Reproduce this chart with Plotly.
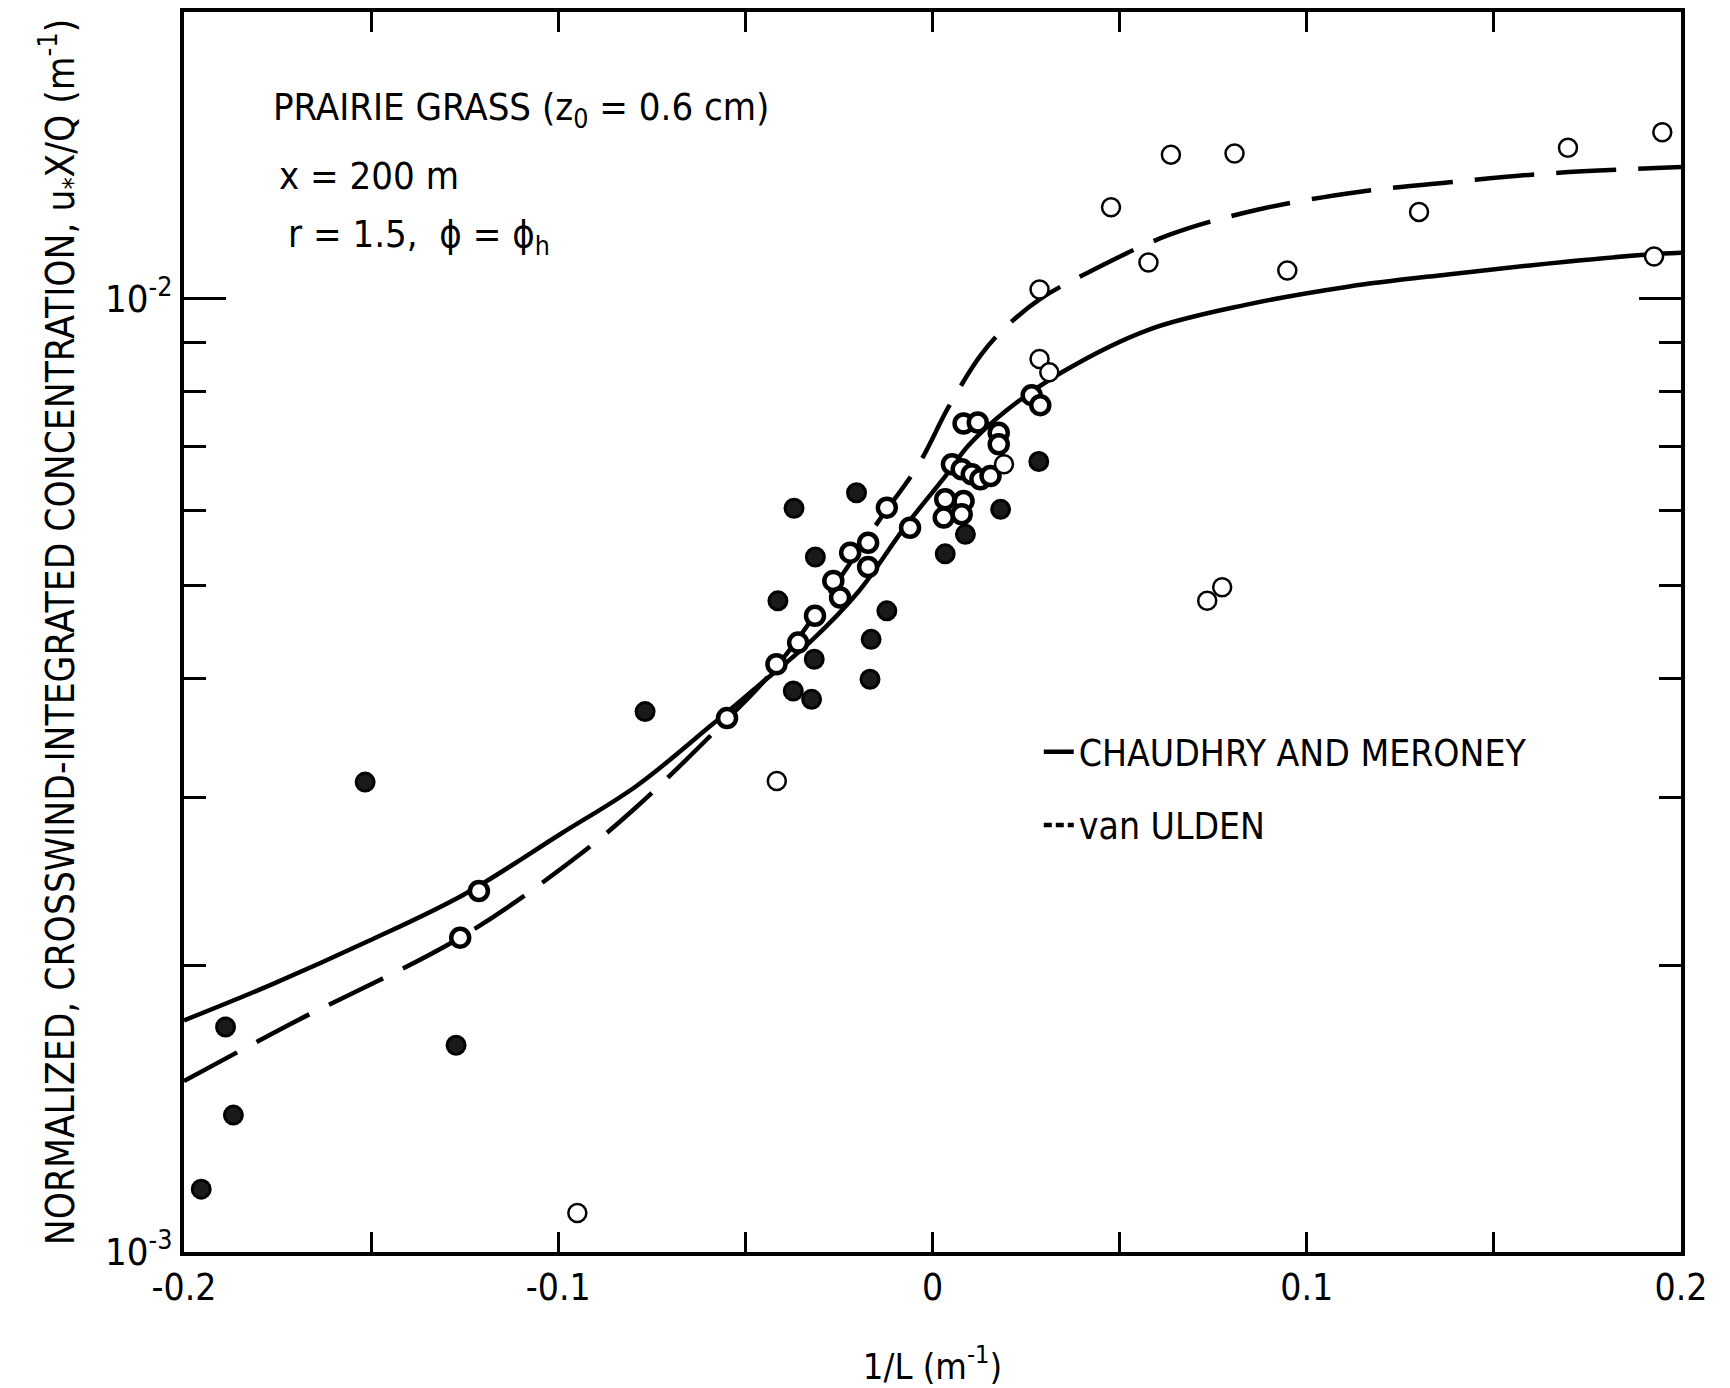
import plotly.graph_objects as go

# ---------------- data ----------------
# dark (filled) observations
dark_x = [-0.1954, -0.1889, -0.1868, -0.1516, -0.1273, -0.0768, -0.0413, -0.0370, -0.0372, -0.0313,
          -0.0316, -0.0323, -0.0203, -0.0164, -0.0167, -0.0122, 0.0034, 0.0088, 0.0182, 0.0284]
dark_y = [1.164e-3, 1.722e-3, 1.392e-3, 3.112e-3, 1.648e-3, 3.690e-3, 4.822e-3, 6.030e-3, 3.878e-3, 5.360e-3,
          4.187e-3, 3.801e-3, 6.260e-3, 4.394e-3, 3.990e-3, 4.707e-3, 5.402e-3, 5.662e-3, 6.015e-3, 6.751e-3]

# heavy-ring observations
ring_x = [-0.1262, -0.1212, -0.0549, -0.0417, -0.0359, -0.0314, -0.0265, -0.0247, -0.0220, -0.0172,
          -0.0172, -0.0122, -0.0060, 0.0034, 0.0083, 0.0030, 0.0078, 0.0052, 0.0078, 0.0105,
          0.0128, 0.0155, 0.0083, 0.0121, 0.0177, 0.0177, 0.0265, 0.0288]
ring_y = [2.137e-3, 2.392e-3, 3.633e-3, 4.137e-3, 4.359e-3, 4.651e-3, 5.060e-3, 4.860e-3, 5.417e-3, 5.548e-3,
          5.232e-3, 6.039e-3, 5.754e-3, 6.162e-3, 6.138e-3, 5.896e-3, 5.943e-3, 6.706e-3, 6.626e-3, 6.546e-3,
          6.468e-3, 6.519e-3, 7.400e-3, 7.420e-3, 7.238e-3, 7.039e-3, 7.925e-3, 7.736e-3]

# open observations
open_x = [-0.0949, -0.0416, 0.0191, 0.0286, 0.0286, 0.0312, 0.0477, 0.0577, 0.0637, 0.0734,
          0.0774, 0.0807, 0.0948, 0.1300, 0.1698, 0.1928, 0.1950]
open_y = [1.099e-3, 3.120e-3, 6.706e-3, 1.023e-2, 8.650e-3, 8.374e-3, 1.248e-2, 1.092e-2, 1.417e-2, 4.822e-3,
          4.982e-3, 1.421e-2, 1.071e-2, 1.234e-2, 1.441e-2, 1.108e-2, 1.496e-2]

# Chaudhry and Meroney curve
cm_x = [-0.2, -0.1765, -0.1510, -0.1253, -0.0996, -0.0791, -0.0593, -0.0463, -0.0324, -0.0197, -0.0072,
        0.0034, 0.0096, 0.0194, 0.0348, 0.0577, 0.0843, 0.1110, 0.1377, 0.1643, 0.1909, 0.2]
cm_y = [1.750e-3, 1.909e-3, 2.117e-3, 2.371e-3, 2.742e-3, 3.083e-3, 3.565e-3, 3.935e-3, 4.377e-3, 4.935e-3, 5.776e-3,
        6.513e-3, 7.016e-3, 7.619e-3, 8.386e-3, 9.281e-3, 9.868e-3, 1.030e-2, 1.061e-2, 1.089e-2, 1.113e-2, 1.118e-2]

# van Ulden curve
vu_x = [-0.2, -0.1714, -0.1262, -0.0966, -0.0791, -0.0546, -0.0466, -0.0377, -0.0253, -0.0143, -0.0037,
        0.0043, 0.0129, 0.0191, 0.0288, 0.0416, 0.0632, 0.0871, 0.1138, 0.1404, 0.1643, 0.2]
vu_y = [1.511e-3, 1.736e-3, 2.137e-3, 2.570e-3, 2.930e-3, 3.632e-3, 3.908e-3, 4.307e-3, 5.055e-3, 5.853e-3, 6.706e-3,
        7.702e-3, 8.729e-3, 9.306e-3, 1.000e-2, 1.066e-2, 1.167e-2, 1.241e-2, 1.295e-2, 1.328e-2, 1.354e-2, 1.375e-2]

x_major = [-0.2, -0.1, 0, 0.1, 0.2]
x_major_text = ["-0.2", "-0.1", "0", "0.1", "0.2"]
x_minor = [-0.15, -0.05, 0.05, 0.15]
y_major = [1e-3, 1e-2]
y_major_text = ["10<sup>-3</sup>", "10<sup>-2</sup>"]
y_minor = [2e-3, 3e-3, 4e-3, 5e-3, 6e-3, 7e-3, 8e-3, 9e-3]

FONT = "Liberation Sans Narrow, DejaVu Sans Condensed, Arial Narrow, sans-serif"

fig = go.Figure()
fig.add_trace(go.Scatter(x=cm_x, y=cm_y, mode="lines", name="CHAUDHRY AND MERONEY",
                         legendgroup="cm", showlegend=True,
                         line=dict(color="black", width=4.5), line_shape="spline"))
fig.add_trace(go.Scatter(x=vu_x, y=vu_y, mode="lines", name="van ULDEN", showlegend=False,
                         line=dict(color="black", width=4.5, dash="60px,22px"), line_shape="spline"))
# legend-only entry for the dashed curve (shorter dash so the key shows the pattern)
fig.add_trace(go.Scatter(x=[None], y=[None], mode="lines", name="van ULDEN", legendgroup="vu",
                         line=dict(color="black", width=4.5, dash="8px,4px")))
fig.add_trace(go.Scatter(x=ring_x, y=ring_y, mode="markers", showlegend=False,
                         marker=dict(symbol="circle", size=18, color="white",
                                     line=dict(color="black", width=4.5))))
fig.add_trace(go.Scatter(x=dark_x, y=dark_y, mode="markers", showlegend=False,
                         marker=dict(symbol="circle", size=18, color="#1a1a1a",
                                     line=dict(color="black", width=3))))
fig.add_trace(go.Scatter(x=open_x, y=open_y, mode="markers", showlegend=False,
                         marker=dict(symbol="circle", size=18, color="white",
                                     line=dict(color="black", width=2.5))))

fig.update_layout(
    width=1730, height=1388,
    margin=dict(l=184, r=49, t=12, b=136),
    paper_bgcolor="white", plot_bgcolor="white",
    font=dict(family=FONT, color="black", size=36),
    legend=dict(x=0.571, y=0.428, xanchor="left", yanchor="top",
                bgcolor="rgba(0,0,0,0)", font=dict(size=37), tracegroupgap=22,
                traceorder="grouped"),
    xaxis=dict(range=[-0.2, 0.2], tickmode="array", tickvals=x_major, ticktext=x_major_text,
               ticks="inside", ticklen=20, tickwidth=3, tickcolor="black",
               minor=dict(tickmode="array", tickvals=x_minor, ticks="inside", ticklen=20,
                          tickwidth=3, tickcolor="black"),
               showline=True, linewidth=4, linecolor="black", mirror="ticks",
               showgrid=False, zeroline=False, tickfont=dict(size=37), automargin=False,
               title=dict(text="1/L (m<sup>-1</sup>)", font=dict(size=36), standoff=46)),
    yaxis=dict(type="log", range=[-3, -1.69897], tickmode="array",
               tickvals=y_major, ticktext=y_major_text,
               ticks="inside", ticklen=42, tickwidth=3, tickcolor="black",
               minor=dict(tickmode="array", tickvals=y_minor, ticks="inside", ticklen=22,
                          tickwidth=3, tickcolor="black"),
               showline=True, linewidth=4, linecolor="black", mirror="ticks",
               showgrid=False, zeroline=False, tickfont=dict(size=38), automargin=False,
               title=dict(text="NORMALIZED, CROSSWIND-INTEGRATED CONCENTRATION, u<sub>*</sub>X/Q (m<sup>-1</sup>)",
                          font=dict(size=38.5), standoff=20)),
)

fig.add_annotation(x=0.058, y=0.921, xref="paper", yref="paper", xanchor="left", yanchor="middle",
                   showarrow=False, font=dict(size=38),
                   text="PRAIRIE GRASS (z<sub>0</sub> = 0.6 cm)")
fig.add_annotation(x=0.062, y=0.8675, xref="paper", yref="paper", xanchor="left", yanchor="middle",
                   showarrow=False, font=dict(size=38), text="x = 200 m")
fig.add_annotation(x=0.068, y=0.819, xref="paper", yref="paper", xanchor="left", yanchor="middle",
                   showarrow=False, font=dict(size=38), text="r = 1.5,  ϕ = ϕ<sub>h</sub>")

fig.write_html("out.html")
